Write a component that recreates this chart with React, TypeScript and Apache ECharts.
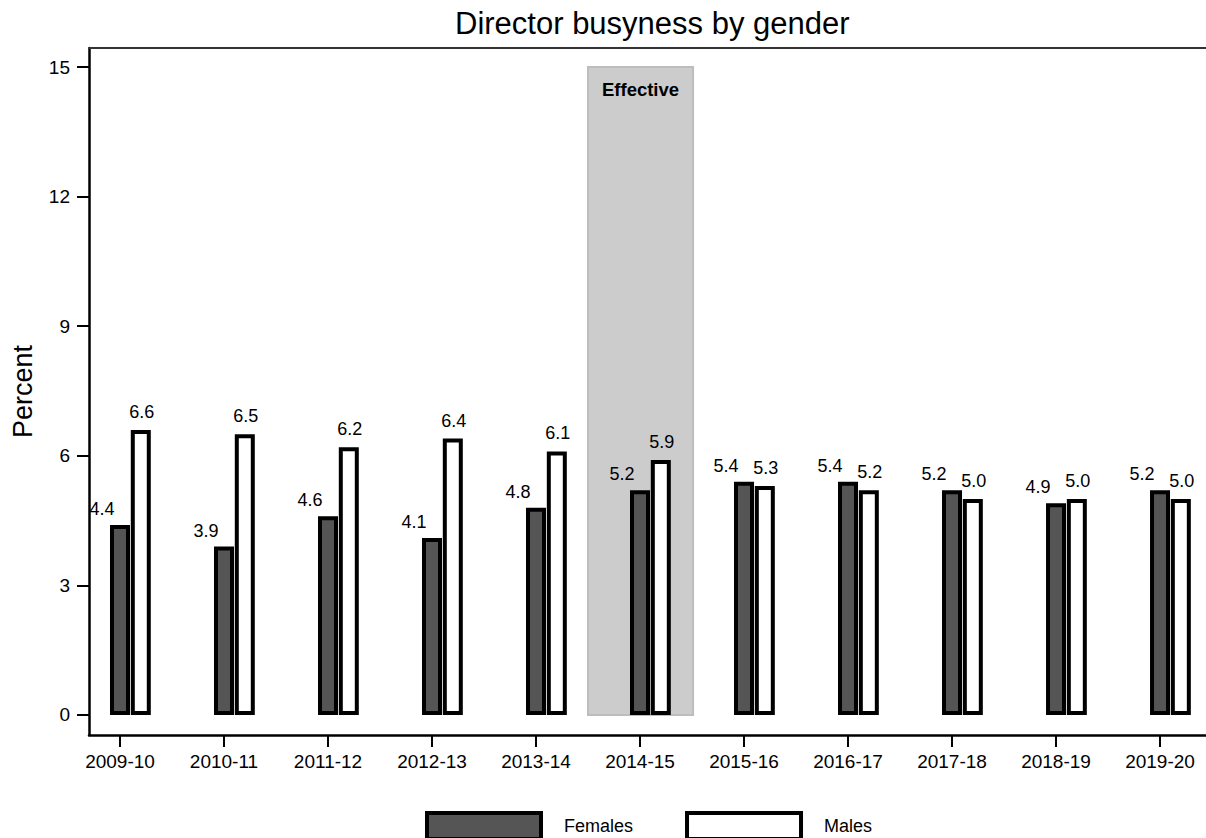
import React, { useEffect, useRef } from "react";
import * as echarts from "echarts";

const CATEGORIES = ["2009-10", "2010-11", "2011-12", "2012-13", "2013-14", "2014-15", "2015-16", "2016-17", "2017-18", "2018-19", "2019-20"];
const FEMALES = [4.4, 3.9, 4.6, 4.1, 4.8, 5.2, 5.4, 5.4, 5.2, 4.9, 5.2];
const MALES = [6.6, 6.5, 6.2, 6.4, 6.1, 5.9, 5.3, 5.2, 5.0, 5.0, 5.0];
const Y_TICKS = [0, 3, 6, 9, 12, 15];
const EFFECTIVE_RANGE = [4.5, 5.51];
const EFFECTIVE_TOP = 15;
const MALE_SHIFT = 0.2; // male bar sits just right of the female bar (category units)

const FONT = "'Liberation Sans', Arial, Helvetica, sans-serif";

export default function App() {
  const ref = useRef<HTMLDivElement>(null);
  useEffect(() => {
    if (!ref.current) return;
    const chart = echarts.init(ref.current, undefined, { renderer: "svg" });
    const xIdx = CATEGORIES.map((_, i) => i);
    const femaleData = FEMALES.map((v, i) => [i, v]);
    const maleData = MALES.map((v, i) => [i + MALE_SHIFT, v]);
    const xMin = -0.298;
    const xMax = 10.442;
    chart.setOption({
      animation: false,
      textStyle: { fontFamily: FONT, color: "#000" },
      title: {
        text: "Director busyness by gender",
        left: 450,
        top: 3,
        textStyle: { fontSize: 31, fontWeight: "normal", color: "#000", fontFamily: FONT },
      },
      legend: {
        left: 420,
        top: 806,
        itemWidth: 114,
        itemHeight: 26,
        itemGap: 52,
        icon: "rect",
        selectedMode: false,
        textStyle: { fontSize: 18, color: "#000", fontFamily: FONT, padding: [0, 0, 0, 18] },
        data: [
          { name: "Females", itemStyle: { color: "#555555", borderColor: "#000", borderWidth: 4 } },
          { name: "Males", itemStyle: { color: "#ffffff", borderColor: "#000", borderWidth: 4 } },
        ],
      },
      grid: { left: 89, right: 0, top: 48, bottom: 103, containLabel: false },
      xAxis: [
        {
          type: "value",
          min: xMin,
          max: xMax,
          position: "bottom",
          splitLine: { show: false },
          axisLine: { show: true, onZero: false, lineStyle: { color: "#000", width: 2.5 } },
          axisTick: { show: true, customValues: xIdx, length: 12, lineStyle: { color: "#000", width: 2 } },
          axisLabel: {
            customValues: xIdx,
            formatter: (v: number) => CATEGORIES[Math.round(v)] ?? "",
            fontSize: 19,
            color: "#000",
            margin: 17,
            fontFamily: FONT,
          },
        },
        {
          type: "value",
          min: xMin,
          max: xMax,
          position: "top",
          splitLine: { show: false },
          axisLine: { show: true, onZero: false, lineStyle: { color: "#333", width: 2 } },
          axisTick: { show: false },
          axisLabel: { show: false },
        },
      ],
      yAxis: {
        type: "value",
        min: -0.463,
        max: 15.44,
        name: "Percent",
        nameLocation: "middle",
        nameGap: 53,
        nameTextStyle: { fontSize: 27, color: "#000", fontFamily: FONT },
        splitLine: { show: false },
        axisLine: { show: true, onZero: false, lineStyle: { color: "#000", width: 2.5 } },
        axisTick: { show: true, customValues: Y_TICKS, length: 12, lineStyle: { color: "#000", width: 2 } },
        axisLabel: { customValues: Y_TICKS, fontSize: 19, color: "#000", margin: 19, fontFamily: FONT },
      },
      series: [
        {
          type: "line",
          name: "effective",
          data: [],
          z: 1,
          silent: true,
          markArea: {
            silent: true,
            itemStyle: { color: "#cccccc", borderColor: "#bdbdbd", borderWidth: 2 },
            label: {
              show: true,
              position: "insideTop",
              distance: 14,
              formatter: "Effective",
              fontSize: 18.5,
              fontWeight: "bold",
              color: "#000",
              fontFamily: FONT,
            },
            data: [[{ xAxis: EFFECTIVE_RANGE[0], yAxis: 0 }, { xAxis: EFFECTIVE_RANGE[1], yAxis: EFFECTIVE_TOP }]],
          },
        },
        {
          type: "bar",
          name: "Females",
          data: femaleData,
          barWidth: 20,
          barGap: "-100%",
          z: 3,
          itemStyle: { color: "#555555", borderColor: "#000", borderWidth: 4 },
          label: {
            show: true,
            position: "top",
            distance: 7,
            offset: [-18, 0],
            formatter: (p: any) => Number(p.value[1]).toFixed(1),
            fontSize: 18,
            color: "#000",
            fontFamily: FONT,
          },
        },
        {
          type: "bar",
          name: "Males",
          data: maleData,
          barWidth: 20,
          barGap: "-100%",
          z: 3,
          itemStyle: { color: "#ffffff", borderColor: "#000", borderWidth: 4 },
          label: {
            show: true,
            position: "top",
            distance: 9,
            offset: [1, 0],
            formatter: (p: any) => Number(p.value[1]).toFixed(1),
            fontSize: 18,
            color: "#000",
            fontFamily: FONT,
          },
        },
      ],
    });
    return () => chart.dispose();
  }, []);
  return (
    <div
      ref={ref}
      style={{ position: "fixed", left: 0, top: 0, width: 1206, height: 838, background: "#fff" }}
    />
  );
}
